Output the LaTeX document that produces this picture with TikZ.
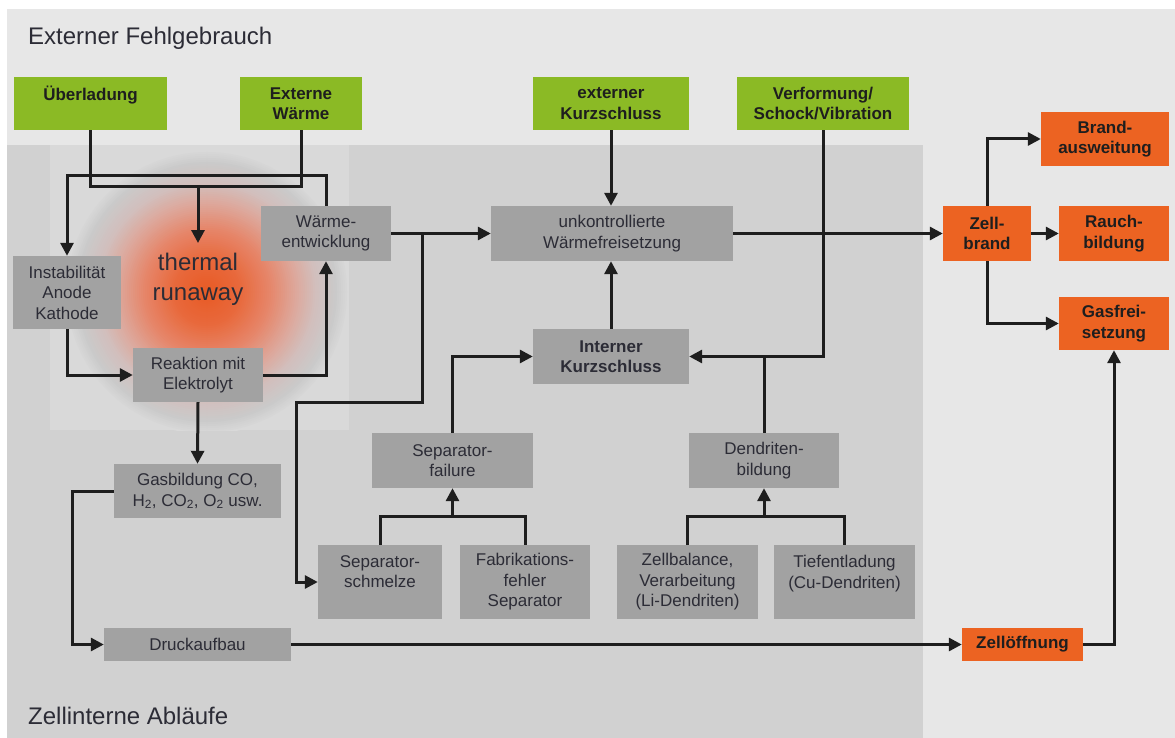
\documentclass[tikz,border=0pt]{standalone}
\usepackage{fontspec}
\setmainfont{Liberation Sans}
\usetikzlibrary{arrows.meta}
\definecolor{bgout}{HTML}{E7E7E7}
\definecolor{bgin}{HTML}{D1D1D1}
\definecolor{sqc}{HTML}{D9D9D9}
\definecolor{boxg}{HTML}{A2A2A2}
\definecolor{grn}{HTML}{8BBA25}
\definecolor{org}{HTML}{EC6322}
\definecolor{txt}{HTML}{2C2C36}
\definecolor{lnc}{HTML}{1E1E1E}
\definecolor{gc0}{HTML}{E85A24}
\definecolor{gc1}{HTML}{E8693C}
\definecolor{gc2}{HTML}{E6866A}
\definecolor{gc3}{HTML}{DDA89C}
\definecolor{gc4}{HTML}{D2BFBD}
\definecolor{gc5}{HTML}{CACACA}
\tikzset{
  base/.style={rectangle, inner sep=0pt, align=center, font=\fontsize{17}{20.5}\selectfont},
  gbox/.style={base, fill=boxg, text=txt},
  grbox/.style={base, fill=grn, text=lnc, font=\fontsize{17}{20.5}\selectfont\bfseries},
  obox/.style={base, fill=org, text=lnc, font=\fontsize{17}{20.5}\selectfont\bfseries},
  conn/.style={draw=lnc, line width=3pt},
  arr/.style={conn, -{Triangle[length=13pt,width=13pt]}},
  title/.style={anchor=west, inner sep=0pt, text=txt, font=\fontsize{24}{28}\selectfont}
}
\begin{document}
\begin{tikzpicture}[x=1pt, y=-1pt]
\useasboundingbox (0,0) rectangle (1175,738);
\fill[white] (0,0) rectangle (1175,738);
\fill[bgout] (7,9) rectangle (1175,738);
\fill[bgin] (7,145) rectangle (923,738);
\fill[sqc] (50,145) rectangle (349,430);
\begin{scope}
\clip (50,145) rectangle (349,430);
\foreach \ra/\rb/\ca/\cb in {142/130/sqc/gc5, 130/110/gc5/gc4, 110/90/gc4/gc3, 90/64/gc3/gc2, 64/34/gc2/gc1, 34/0/gc1/gc0} {
  \pgfmathtruncatemacro\nn{(\ra-\rb)/2}
  \foreach \i in {1,...,\nn} {
    \pgfmathsetmacro\rr{\ra-2*(\i-1)}
    \pgfmathsetmacro\pp{100*(\i-1)/\nn}
    \fill[\cb!\pp!\ca] (207,292) circle (\rr);
  }
}
\end{scope}

\node[title] (t1) at (28,38) {Externer Fehlgebrauch};
\node[title] (t2) at (28,716) {Zellinterne Abläufe};
\node[inner sep=0pt, align=center, text=txt, font=\fontsize{24}{30}\selectfont] (tr) at (198,279) {thermal\\runaway};
\coordinate (trtop) at (198,243);

% green
\node[grbox, minimum width=153pt, minimum height=53pt] (ueb) at (90.5,103.5) {Überladung\\~};
\node[grbox, minimum width=122pt, minimum height=53pt] (ew) at (301,103.5) {Externe\\Wärme};
\node[grbox, minimum width=156pt, minimum height=53pt] (ekz) at (611,103.5) {externer\\Kurzschluss};
\node[grbox, minimum width=172pt, minimum height=53pt] (verf) at (823,103.5) {Verformung/\\Schock/Vibration};

% gray
\node[gbox, minimum width=130pt, minimum height=55pt] (wae) at (326,233.5) {Wärme-\\entwicklung};
\node[gbox, minimum width=108pt, minimum height=73pt] (inst) at (67,292.5) {Instabilität\\Anode\\Kathode};
\node[gbox, minimum width=130pt, minimum height=54pt] (rea) at (198,375) {Reaktion mit\\Elektrolyt};
\node[gbox, minimum width=167pt, minimum height=54pt] (gas) at (197.5,491) {Gasbildung CO,\\H\textsubscript{2}, CO\textsubscript{2}, O\textsubscript{2} usw.};
\node[gbox, minimum width=187pt, minimum height=33pt] (dru) at (197.5,644.5) {Druckaufbau};
\node[gbox, minimum width=242pt, minimum height=55pt] (unk) at (612,233.5) {unkontrollierte\\Wärmefreisetzung};
\node[gbox, minimum width=156pt, minimum height=55pt, font=\fontsize{17}{20.5}\selectfont\bfseries] (ikz) at (611,356.5) {Interner\\Kurzschluss};
\node[gbox, minimum width=161pt, minimum height=55pt] (sepf) at (452.5,460.5) {Separator-\\failure};
\node[gbox, minimum width=150pt, minimum height=55pt] (den) at (764,460.5) {Dendriten-\\bildung};
\node[gbox, minimum width=124pt, minimum height=74pt] (seps) at (380,582) {Separator-\\schmelze\\~};
\node[gbox, minimum width=130pt, minimum height=74pt] (fab) at (525,582) {Fabrikations-\\fehler\\Separator};
\node[gbox, minimum width=141pt, minimum height=74pt] (zb) at (687.5,582) {Zellbalance,\\Verarbeitung\\(Li-Dendriten)};
\node[gbox, minimum width=141pt, minimum height=74pt] (tief) at (844.5,582) {Tiefentladung\\(Cu-Dendriten)\\~};

% orange
\node[obox, minimum width=88pt, minimum height=55pt] (zbr) at (987,233.5) {Zell-\\brand};
\node[obox, minimum width=128pt, minimum height=54pt] (brand) at (1105,139) {Brand-\\ausweitung};
\node[obox, minimum width=110pt, minimum height=55pt] (rauch) at (1114,233.5) {Rauch-\\bildung};
\node[obox, minimum width=110pt, minimum height=53pt] (gasf) at (1114,323.5) {Gasfrei-\\setzung};
\node[obox, minimum width=121pt, minimum height=33pt] (zoe) at (1022.5,644.5) {Zellöffnung};

% connectors
\draw[conn] (ueb.south) -- (ueb.south |- 0,187) -- (ew.south |- 0,187) -- (ew.south);
\draw[arr] (tr.north |- 0,187) -- (trtop);
\draw[arr] (wae.north) -- (wae.north |- 0,176) -- (inst.north |- 0,176) -- (inst.north);
\draw[arr] (inst.south) |- (rea.west);
\draw[arr] (rea.east) -| (wae.south);
\draw[arr] (rea.south) -- (gas.north);
\draw[arr] (gas.west) -- (72,491) |- (dru.west);
\draw[arr] (dru.east) -- (zoe.west);
\draw[arr] (zoe.east) -| (gasf.south);
\draw[arr] (wae.east) -- (unk.west);
\draw[arr] (422,233.5) -- (422,402) -- (296,402) |- (seps.west);
\draw[arr] (ekz.south) -- (ekz.south |- unk.north);
\draw[arr] (ikz.north) -- (ikz.north |- unk.south);
\draw[arr] (verf.south) |- (ikz.east);
\draw[conn] (den.north) -- (den.north |- ikz.east);
\draw[arr] (sepf.north) |- (ikz.west);
\draw[conn] (seps.north) -- (seps.north |- 0,516) -- (fab.north |- 0,516) -- (fab.north);
\draw[arr] (sepf.south |- 0,516) -- (sepf.south);
\draw[conn] (zb.north) -- (zb.north |- 0,516) -- (tief.north |- 0,516) -- (tief.north);
\draw[arr] (den.south |- 0,516) -- (den.south);
\draw[arr] (unk.east) -- (zbr.west);
\draw[arr] (zbr.north) |- (brand.west);
\draw[arr] (zbr.east) -- (rauch.west);
\draw[arr] (zbr.south) |- (gasf.west);
\end{tikzpicture}
\end{document}
